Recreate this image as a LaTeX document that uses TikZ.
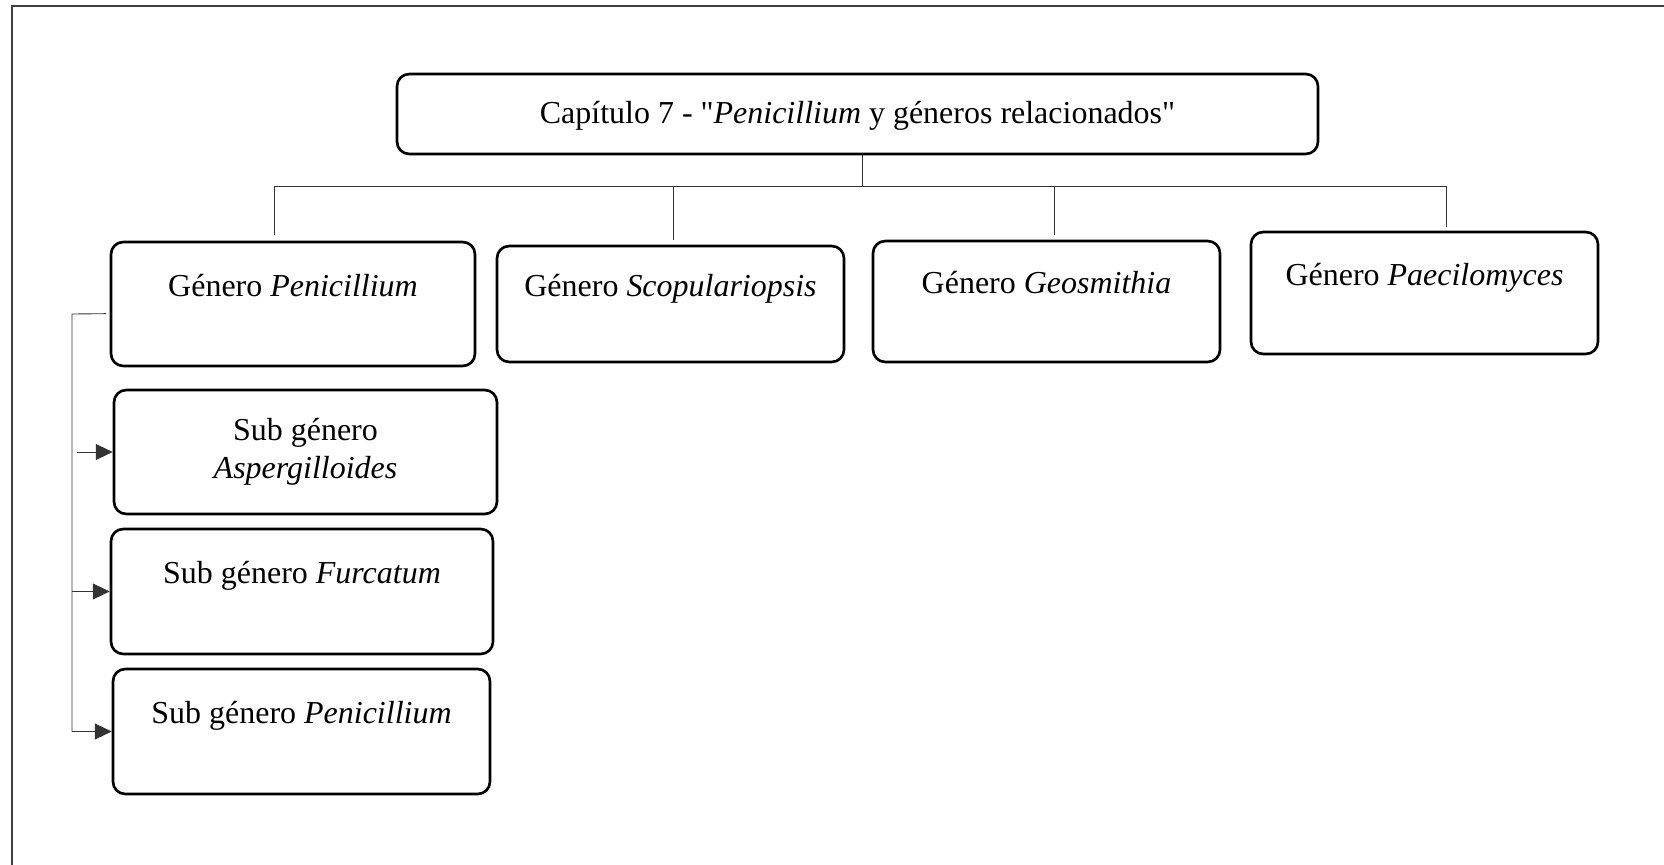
\documentclass[tikz,border=0pt]{standalone}
\usepackage{fontspec}
\setmainfont{Liberation Serif}[Ligatures=TeXOff]
\usetikzlibrary{arrows.meta}

\begin{document}
\begin{tikzpicture}[x=0.02cm, y=-0.02cm,
    every node/.style={font=\fontsize{18.2pt}{21.6pt}\selectfont, align=center},
    gbox/.style={draw, rounded corners=7pt, line width=1.5pt, inner sep=0pt},
    link/.style={line width=0.5pt, draw=black!80},
    tip/.style={link, -{Triangle[length=9.5pt,width=9pt]}}]
    \useasboundingbox (0,0) rectangle (1664,865);
    % frame
    \draw[line width=0.8pt, draw=black!75] (12,865) -- (12,6) -- (1664,6);
    % title
    \node[gbox, minimum width=921*0.02cm, minimum height=80*0.02cm,
        text height=11pt, text depth=0pt] (cap) at (857.5,114)
        {Capítulo 7 - "\textit{Penicillium} y géneros relacionados"};
    % generos
    \node[gbox, minimum width=364*0.02cm, minimum height=124*0.02cm] (gpen) at (293,304)
        {Género \textit{Penicillium}\\ \mbox{}};
    \node[gbox, minimum width=347*0.02cm, minimum height=116*0.02cm] (gsco) at (670.5,304)
        {Género \textit{Scopulariopsis}\\ \mbox{}};
    \node[gbox, minimum width=347*0.02cm, minimum height=121*0.02cm] (ggeo) at (1046.5,301.5)
        {Género \textit{Geosmithia}\\ \mbox{}};
    \node[gbox, minimum width=347*0.02cm, minimum height=122*0.02cm] (gpae) at (1424.5,293)
        {Género \textit{Paecilomyces}\\ \mbox{}};
    % sub generos
    \node[gbox, minimum width=383*0.02cm, minimum height=124*0.02cm] (sasp) at (305.5,452)
        {Sub género\\ \textit{Aspergilloides}};
    \node[gbox, minimum width=382*0.02cm, minimum height=125*0.02cm] (sfur) at (302,591.5)
        {Sub género \textit{Furcatum}\\ \mbox{}};
    \node[gbox, minimum width=377*0.02cm, minimum height=125*0.02cm] (spen) at (301.5,731.5)
        {Sub género \textit{Penicillium}\\ \mbox{}};
    % tree
    \coordinate (j1) at (274,186);
    \coordinate (j2) at (673,186);
    \coordinate (j3) at (1054,186);
    \coordinate (j4) at (1446,186);
    \draw[link] ([xshift=3pt]cap.south) -- ([xshift=3pt]cap.south |- j1);
    \draw[link] (j1) -- (j4);
    \draw[link, shorten >=3pt] (j1) -- (j1 |- gpen.north);
    \draw[link, shorten >=2.5pt] (j2) -- (j2 |- gsco.north);
    \draw[link, shorten >=2.5pt] (j3) -- (j3 |- ggeo.north);
    \draw[link, shorten >=2pt] (j4) -- (j4 |- gpae.north);
    % left branch
    \coordinate (vtop) at (72,314);
    \draw[link] ([xshift=-2pt,yshift=-5.5pt]gpen.west) -- (vtop) -- (vtop |- spen.west);
    \draw[tip] ([xshift=3pt]vtop |- sasp.west) -- (sasp.west);
    \draw[tip] (vtop |- sfur.west) -- (sfur.west);
    \draw[tip] (vtop |- spen.west) -- (spen.west);
\end{tikzpicture}
\end{document}
